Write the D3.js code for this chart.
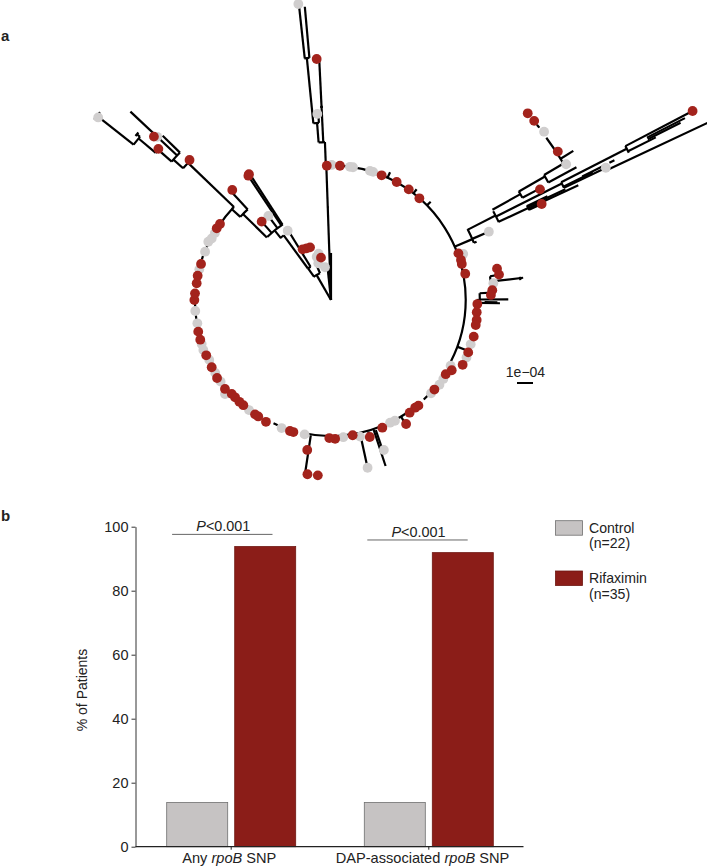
<!DOCTYPE html>
<html>
<head>
<meta charset="utf-8">
<script src="https://cdnjs.cloudflare.com/ajax/libs/d3/7.8.5/d3.min.js"></script>
<style>
html, body { margin: 0; padding: 0; background: #fff; }
svg { display: block; }
text { font-family: "Liberation Sans", Arial, sans-serif; fill: #222; }
</style>
</head>
<body>
<div id="chart"></div>
<script>
// panel a: angles in degrees clockwise from the root's 12 o'clock, distances in units of 1e-04
let redAngles = [-1.8, 3.8, 22.1, 29.1, 35.1, 41, 69.9, 72.9, 74.6, 78.9,
    79.3, 81.4, 86.5, 88.2, 91.6, 94.8, 97.8, 99.8, 104.4, 110.9, 116.2,
    120.2, 122.9, 130.9, 140.4, 142, 145.1, 148.8, 158.1, 164.2, 170.9, 178.3, 180.7,
    189, 187.7, 184.3, 195.9, 197.4, 208.1, 212, 213.6, 219.8, 222, 224.6, 226.6, 230,
    235.6, 240.6, 246.1, 253.1, 256.6, 270, 272.8, 277.1, 280.3, 285.5, 302.1, 304.4,
    314.7, 311.2, 312.7, 326.9, 326.4, 318.1, 318.5, 338.3, 334.8, 330.8, 346.7, -3.4,
    65.5, 62.1, 56.8, 46.5, 48.6, 62.4];
let redDists = [8.4, 8.41, 8.41, 8.44, 8.45, 8.42, 8.48, 8.5, 8.48, 8.55,
    10.56, 10.62, 10.1, 10, 9.15, 9.14, 9.19, 9.18, 9.21, 9.18, 9.17,
    8.73, 8.54, 8.55, 8.57, 8.54, 8.59, 9.06, 8.6, 8.9, 8.56, 8.68, 8.63,
    9.49, 10.99, 10.99, 8.58, 8.58, 8.63, 8.58, 8.58, 8.56, 8.56, 8.54, 8.54, 8.65,
    8.63, 8.56, 8.53, 8.54, 8.53, 8.54, 8.51, 8.46, 8.47, 8.43, 8.43, 8.41,
    12.44, 14.34, 15.06, 9.39, 9.33, 9.24, 6.54, 3.54, 3.57, 3.63, 2.72, 15.09,
    14.47, 14.78, 16.94, 16.95, 16.93, 25.5];
let greyAngles = [0.3, 8.1, 9.4, 16.8, 18.2, 70.8, 84.1, 107.6, 113, 118.8, 125.1, 128, 133,
    152.1, 154.3, 168, 174.9, 191.1, 201.1, 216.7, 228.4, 233.5, 237.8, 243.8, 248.6, 251.2,
    260.1, 265.4, 283.1, 291, 295.4, 297.3, 300, 167.7, 160.6,
    308.1, 313.2, 323.3, 328, 340.9, 341.7, 349.6, 345, -6.3, -4.2,
    51.7, 60, 66.6, 64.3];
let greyDists = [8.44, 8.41, 8.41, 8.43, 8.43, 8.75, 10.2, 9.16, 9.2, 8.53, 8.58, 8.6, 8.55,
    8.54, 8.51, 8.73, 8.61, 8.56, 8.58, 8.58, 8.86, 8.58, 8.55, 8.48, 8.57, 8.54,
    8.48, 8.51, 8.45, 8.43, 8.49, 8.39, 8.38, 10.73, 9.94,
    18.49, 14.9, 6.55, 5.11, 2.43, 2.85, 2.08, 3, 18.61, 11.66,
    16.97, 16.97, 10.75, 19.06];

// [angle, from, to]
let radialBranches = [
    [-2, 0, 8.44], [330, 0, 1.81], [337.6, 1.81, 2.6], [0, 0, 2.94], [354, 0, 1.9],
    [-2.2, 8.44, 9.88], [-4.5, 9.88, 11.1], [-5.7, 11.1, 15.19], [-6.2, 15.19, 18.4], [-5.1, 15.19, 18.4],
    [-3.9, 11.1, 11.66], [-2.8, 9.88, 15.09],
    [324, 1.81, 2.44], [328.4, 2.44, 4.9], [323.8, 2.44, 5], [321, 5, 5.6], [327.2, 5.6, 9.35], [326.3, 5.6, 9.3],
    [323.3, 5.6, 6.5], [318.5, 5.6, 6.5], [314.3, 5.6, 7.69], [317.4, 7.69, 9.2], [312.5, 7.69, 8.4],
    [313.8, 8.4, 12.38], [315, 12.38, 12.44], [311.7, 12.38, 13.19], [314.3, 13.19, 14.7], [313.2, 13.19, 17.2],
    [311, 13.19, 14.3], [310, 14.3, 15.7], [308.2, 15.7, 18.4], [310.5, 15.7, 15.95],
    [66.7, 8.44, 9.62], [66.6, 9.62, 10.7], [68.2, 9.62, 9.8], [62.8, 9.62, 11.56], [60.8, 11.56, 13.56],
    [61.9, 13.56, 14.78], [60, 13.56, 15.44], [59.6, 15.44, 16.85], [61.6, 15.44, 17.44], [58.4, 16.85, 17.78],
    [65, 11.56, 13.6], [65.1, 13.6, 17.04], [65.5, 13.6, 14.47], [64.7, 13.6, 16.2], [64.4, 13.6, 15],
    [63.2, 11.56, 16.16], [62.9, 16.16, 20.76], [62.4, 20.76, 25.5], [63.4, 20.76, 22.7], [62.8, 22.2, 24.87], [63.1, 22.2, 24.5],
    [64.3, 16.16, 19], [64, 16.16, 18.2], [63.8, 17.5, 18.9], [64.8, 19, 26], [63.75, 19.4, 19.75],
    [24.8, 8.42, 8.8], [37.7, 8.42, 8.75], [45.4, 8.42, 8.75],
    [110.3, 8.44, 8.95], [90, 9.1, 9.3], [87.4, 9.3, 10.05], [89.8, 9.3, 11.08], [91.1, 9.3, 10.56], [90.8, 9.6, 10.4],
    [83.4, 10.1, 12.09], [81.5, 10.05, 10.5],
    [167.7, 8.55, 10.6], [161.8, 8.55, 10.92], [161, 8.6, 9.9], [188.5, 8.55, 10.9], [149, 8.5, 9], [164.2, 8.55, 8.9]
];
// [from angle, to angle, distance]
let arcBranches = [
    [-2.3, -1.5, 5.8], [-4.5, -2.2, 9.88], [-5.7, -3.9, 11.1], [-6.3, -5.1, 15.19], [-3.2, -2.4, 12.08],
    [323, 337.6, 1.81], [324, 328.5, 2.44], [320.5, 323.8, 5], [314.6, 327.5, 5.6], [312.5, 317.4, 7.69],
    [312.5, 313.8, 8.4], [311.7, 315, 12.38], [311, 314.3, 13.19], [310, 311.2, 14.3], [308.2, 310.5, 15.7],
    [310, 311, 15.95], [307.3, 309.1, 18.6],
    [62.5, 68.2, 9.62], [61.3, 65.1, 11.56], [59.9, 61.9, 13.56], [59.6, 61.6, 15.44], [53, 60, 16.85], [49.6, 50.4, 16.9],
    [64.2, 65.6, 13.6], [62.9, 64.3, 16.16], [62.4, 63.7, 20.76], [64.3, 64.8, 19],
    [87.4, 90.5, 9.3], [81.5, 88, 10.05], [83, 84, 11.9]
];
let ringPieces = [
    [-2, 117.5, 8.42], [133, 137, 8.5], [146, 152, 8.5], [158, 177, 8.5], [181, 192.5, 8.5], [203, 205, 8.5],
    [262, 263.5, 8.5], [267, 269, 8.5], [287.5, 289, 8.46], [293, 294, 8.44], [304, 313, 8.4]
];

// panel b
let categories = ["Any rpoB SNP", "DAP-associated rpoB SNP"];
let categoryParts = [["Any ", "rpoB", " SNP"], ["DAP-associated ", "rpoB", " SNP"]];
let seriesNames = ["Control", "Rifaximin"];
let seriesCounts = ["(n=22)", "(n=35)"];
let controlValues = [13.8, 13.8];
let rifaximinValues = [93.8, 91.9];
let yTicks = [0, 20, 40, 60, 80, 100];
let pLabelLevels = [97.6, 95.85];

let width = 707, height = 867;
let red = "#a3231c", grey = "#d0cece";

let svg = d3.select("#chart").append("svg")
    .attr("width", width)
    .attr("height", height);

svg.append("text").attr("x", 1).attr("y", 41).attr("font-size", 15).attr("font-weight", "bold").text("a");
svg.append("text").attr("x", 1).attr("y", 521).attr("font-size", 15).attr("font-weight", "bold").text("b");

// ---------- a: tree
let deg = Math.PI / 180;
let dist = d3.scaleLinear().domain([0, 1]).range([0, 16]);
let tree = svg.append("g").attr("transform", "translate(331,300)");
let arc = d3.arc()
    .startAngle(d => d[0] * deg)
    .endAngle(d => d[1] * deg)
    .innerRadius(d => dist(d[2]))
    .outerRadius(d => dist(d[2]));

tree.selectAll(".branch")
    .data(radialBranches)
    .enter().append("path")
    .attr("class", "branch")
    .attr("d", d => "M" + d3.pointRadial(d[0] * deg, dist(d[1])) + "L" + d3.pointRadial(d[0] * deg, dist(d[2])))
    .attr("stroke", "#000")
    .attr("stroke-width", 2.2)
    .attr("fill", "none");

tree.selectAll(".arc")
    .data(arcBranches.concat(ringPieces))
    .enter().append("path")
    .attr("class", "arc")
    .attr("d", arc)
    .attr("stroke", "#000")
    .attr("stroke-width", 2.2)
    .attr("fill", "none");

function drawTips(angles, dists, colour) {
    tree.selectAll(".tip-" + colour.slice(1))
        .data(angles.map((a, i) => d3.pointRadial(a * deg, dist(dists[i]))))
        .enter().append("circle")
        .attr("class", "tip-" + colour.slice(1))
        .attr("cx", d => d[0])
        .attr("cy", d => d[1])
        .attr("r", 4.9)
        .attr("fill", colour);
}
drawTips(greyAngles, greyDists, grey);
drawTips(redAngles, redDists, red);

// scale bar, one unit long
let barX = 517, barY = 383;
svg.append("line")
    .attr("x1", barX).attr("x2", barX + dist(1))
    .attr("y1", barY).attr("y2", barY)
    .attr("stroke", "#000").attr("stroke-width", 2);
svg.append("text")
    .attr("x", barX + dist(1) / 2 + 0.5).attr("y", 377)
    .attr("text-anchor", "middle").attr("font-size", 14)
    .text("1e\u221204");

// ---------- b: bars
let y = d3.scaleLinear().domain([0, 100]).range([846.7, 526.7]);
let x0 = d3.scalePoint().domain(categories).range([231.2, 428.8]);
let x1 = d3.scaleBand().domain(seriesNames).range([-64.5, 64.5]).paddingInner(0.103);
let fills = { Control: "#c6c3c3", Rifaximin: "#8b1d18" };
let strokes = { Control: "#6f6f6f", Rifaximin: "#6e1712" };
let values = { Control: controlValues, Rifaximin: rifaximinValues };

seriesNames.forEach(function(s) {
    svg.selectAll(".bar-" + s)
        .data(categories)
        .enter().append("rect")
        .attr("class", "bar-" + s)
        .attr("x", d => x0(d) + x1(s))
        .attr("width", x1.bandwidth())
        .attr("y", (d, i) => y(values[s][i]))
        .attr("height", (d, i) => y(0) - y(values[s][i]))
        .attr("fill", fills[s])
        .attr("stroke", strokes[s])
        .attr("stroke-width", 0.8);
});

let yAxis = svg.append("g")
    .attr("transform", "translate(135.5,0)")
    .call(d3.axisLeft(y).tickValues(yTicks).tickSize(4).tickPadding(3).tickSizeOuter(0));
yAxis.selectAll("text").attr("font-size", 14.5).attr("font-family", null);
yAxis.selectAll("line, path").attr("stroke", "#333").attr("stroke-width", 1);

svg.append("line")
    .attr("x1", 135.5).attr("x2", 523.5)
    .attr("y1", y(0)).attr("y2", y(0))
    .attr("stroke", "#222").attr("stroke-width", 1.2);
svg.selectAll(".xtick")
    .data(categories)
    .enter().append("line")
    .attr("class", "xtick")
    .attr("x1", d => x0(d)).attr("x2", d => x0(d))
    .attr("y1", y(0)).attr("y2", y(0) + 3)
    .attr("stroke", "#222");

// the labels sit a little left of their ticks
let labelShift = [-1.9, -6.3];
let xLabels = svg.selectAll(".xlabel")
    .data(categories)
    .enter().append("text")
    .attr("class", "xlabel")
    .attr("x", (d, i) => x0(d) + labelShift[i])
    .attr("y", 862.7)
    .attr("text-anchor", "middle")
    .attr("font-size", 14.6);
xLabels.each(function(d, i) {
    d3.select(this).selectAll("tspan")
        .data(categoryParts[i])
        .enter().append("tspan")
        .attr("font-style", (p, j) => j === 1 ? "italic" : null)
        .text(p => p);
});

svg.append("text")
    .attr("transform", "translate(87,690) rotate(-90)")
    .attr("text-anchor", "middle")
    .attr("font-size", 14)
    .text("% of Patients");

// P value brackets
let bracketHalf = 50.2;
let bracketShift = [-8.9, -11.3];
categories.forEach(function(c, i) {
    let cx = x0(c) + bracketShift[i];
    svg.append("line")
        .attr("x1", cx - bracketHalf).attr("x2", cx + bracketHalf)
        .attr("y1", y(pLabelLevels[i])).attr("y2", y(pLabelLevels[i]))
        .attr("stroke", "#666").attr("stroke-width", 1);
    let t = svg.append("text")
        .attr("x", cx + 1)
        .attr("y", y(pLabelLevels[i]) - 3.2)
        .attr("text-anchor", "middle")
        .attr("font-size", 14.4);
    t.append("tspan").attr("font-style", "italic").text("P");
    t.append("tspan").text("<0.001");
});

// legend
let legendTop = [520.7, 571];
seriesNames.forEach(function(s, i) {
    svg.append("rect")
        .attr("x", 555.5).attr("y", legendTop[i])
        .attr("width", 27).attr("height", 14.5)
        .attr("fill", fills[s]).attr("stroke", strokes[s]).attr("stroke-width", 0.8);
    svg.append("text").attr("x", 589).attr("y", legendTop[i] + 12.2).attr("font-size", 14.1).text(s);
    svg.append("text").attr("x", 589).attr("y", legendTop[i] + 27.5).attr("font-size", 14.1).text(seriesCounts[i]);
});
</script>
</body>
</html>
